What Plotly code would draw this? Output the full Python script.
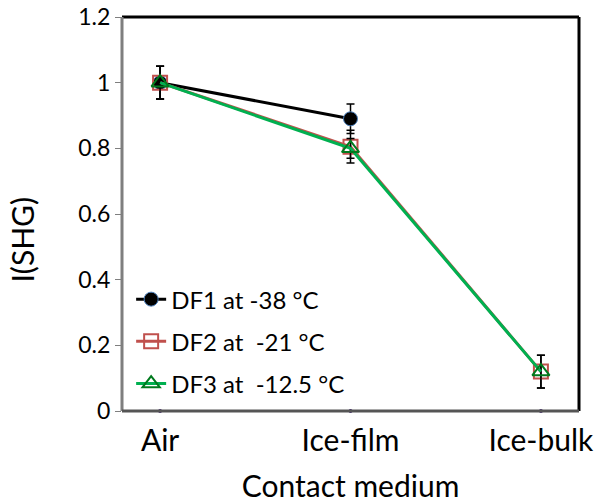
import plotly.graph_objects as go

categories = ["Air", "Ice-film", "Ice-bulk"]
df1_vals = [1.0, 0.89, None]
df1_err = [0.05, 0.045, None]
df2_vals = [1.0, 0.805, 0.12]
df2_err = [0.05, 0.05, 0.05]
df3_vals = [1.0, 0.80, 0.12]
df3_err = [0.05, 0.03, 0.05]
names = ["DF1 at -38 °C", "DF2 at \u00a0-21 °C", "DF3 at \u00a0-12.5 °C"]
y_ticks = [0, 0.2, 0.4, 0.6, 0.8, 1, 1.2]
y_ticklabels = ["0", "0.2", "0.4", "0.6", "0.8", "1", "1.2"]
x_title = "Contact medium"
y_title = "I(SHG)"

FONT = "Lato, 'Open Sans', sans-serif"
xpos = list(range(len(categories)))

def eb(err):
    return dict(type="data", array=[e if e is not None else 0 for e in err],
                visible=True, color="black", thickness=1.5, width=4)

fig = go.Figure()
# axis dots at category positions
fig.add_trace(go.Scatter(x=xpos, y=[0]*len(xpos), mode="markers",
                         marker=dict(size=4, color="#3b1f6b"), showlegend=False,
                         cliponaxis=False, hoverinfo="skip"))
fig.add_trace(go.Scatter(x=xpos, y=df1_vals, name=names[0], mode="lines+markers",
                         legendgroup="g1",
                         line=dict(color="black", width=3),
                         marker=dict(symbol="circle", size=14, color="black",
                                     line=dict(color="#4a7ebb", width=1)),
                         error_y=eb(df1_err)))
fig.add_trace(go.Scatter(x=xpos, y=df2_vals, name=names[1], mode="lines+markers",
                         legendgroup="g2",
                         line=dict(color="#c0504d", width=3),
                         marker=dict(symbol="square-open", size=14, color="#c0504d",
                                     line=dict(color="#c0504d", width=2)),
                         error_y=eb(df2_err)))
fig.add_trace(go.Scatter(x=xpos, y=df3_vals, name=names[2], mode="lines+markers",
                         legendgroup="g3",
                         line=dict(color="#00b050", width=3),
                         marker=dict(symbol="triangle-up-open", size=15, color="#007a1e",
                                     line=dict(color="#007a1e", width=2)),
                         error_y=eb(df3_err)))

# frame
fig.add_shape(type="line", xref="paper", yref="paper", x0=0, x1=1, y0=1, y1=1,
              line=dict(color="black", width=3))
fig.add_shape(type="line", xref="paper", yref="paper", x0=1, x1=1, y0=0, y1=1,
              line=dict(color="black", width=3))
fig.add_shape(type="line", xref="paper", yref="paper", x0=0, x1=0, y0=0, y1=1,
              line=dict(color="#7f7f7f", width=3))
fig.add_shape(type="line", xref="paper", yref="paper", x0=0, x1=1, y0=0, y1=0,
              line=dict(color="#555555", width=3))

# y-axis title (placed slightly below centre as in the original)
fig.add_annotation(text=y_title, textangle=-90, showarrow=False,
                   xref="paper", yref="paper", x=-0.219, y=0.435,
                   xanchor="center", yanchor="middle",
                   font=dict(size=30, family=FONT, color="black"))

fig.update_layout(
    width=603, height=503,
    margin=dict(l=122, r=24, t=17, b=92),
    paper_bgcolor="white", plot_bgcolor="white",
    font=dict(family=FONT, color="black"),
    showlegend=True,
    legend=dict(x=0.02, y=0.34, xanchor="left", yanchor="top",
                bgcolor="rgba(0,0,0,0)", font=dict(size=24, family=FONT),
                traceorder="grouped", tracegroupgap=8, itemwidth=30),
    xaxis=dict(tickmode="array", tickvals=xpos, ticktext=categories,
               range=[-0.2, 2.2], showgrid=False, zeroline=False, showline=False,
               ticks="outside", ticklen=3, tickcolor="rgba(0,0,0,0)",
               tickfont=dict(size=30), automargin=False,
               title=dict(text=x_title, font=dict(size=30), standoff=23)),
    yaxis=dict(tickmode="array", tickvals=y_ticks, ticktext=y_ticklabels,
               range=[0, 1.2], showgrid=False, zeroline=False, showline=False,
               ticks="outside", ticklen=6, tickcolor="#7f7f7f", tickwidth=1,
               tickfont=dict(size=23), automargin=False),
)

fig.write_html("out.html")
